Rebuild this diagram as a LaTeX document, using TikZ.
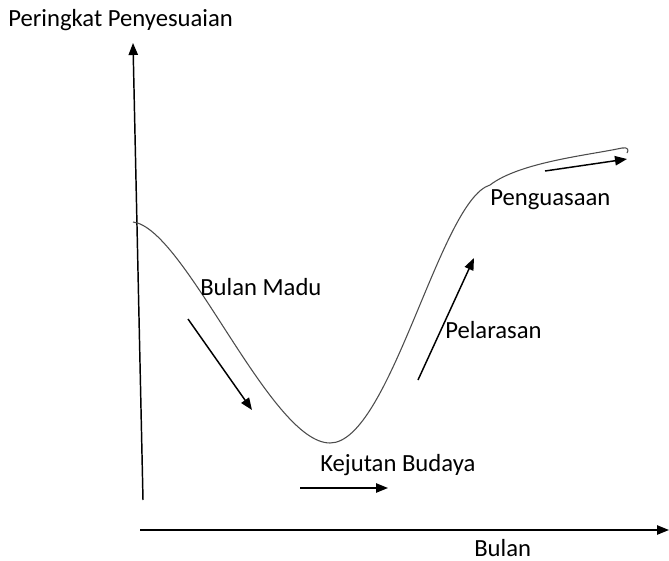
\documentclass[tikz,border=0pt]{standalone}
\usepackage{fontspec}
\setmainfont{Carlito}
\usetikzlibrary{arrows.meta}

\begin{document}
\begin{tikzpicture}[
  x=0.75pt, y=-0.75pt,
  label/.style={inner sep=0pt, anchor=west, font=\fontsize{18.5}{22}\selectfont},
  axis/.style={line width=1.1pt, -{Triangle[length=9pt, width=7pt]}},
  curve/.style={line width=0.8pt, black!70},
  trend/.style={line width=1.1pt, -{Triangle[length=9pt, width=7pt]}}
]
\useasboundingbox (0,0) rectangle (669,561);

% Axes
\coordinate (origin) at (143,500);
\coordinate (ytop) at (133,43);
\coordinate (xleft) at (140,530);
\coordinate (xright) at (669,530);
\draw[axis] (origin) -- (ytop);
\draw[axis] (xleft) -- (xright);
\node[label] (ylabel) at (8,20) {Peringkat Penyesuaian};
\node[label] (xlabel) at (474,548) {Bulan};

% Curve
\draw[curve] (133,222) .. controls (185,228) and (270,443) .. (330,443)
  .. controls (390,443) and (440,200) .. (490,185)
  .. controls (520,162) and (590,155) .. (622,148)
  .. controls (628,147) and (629,150) .. (627,153);

% Stages
\node[label] (madu) at (200,287) {Bulan Madu};
\node[label] (kejutan) at (320,465) {Kejutan Budaya};
\node[label] (pelarasan) at (445,330) {Pelarasan};
\node[label] (penguasaan) at (490,200) {Penguasaan};

% Arrows
\coordinate (a1) at (188,319);
\coordinate (b1) at (252,410);
\coordinate (a2) at (300,488);
\coordinate (b2) at (388,488);
\coordinate (a3) at (418,380);
\coordinate (b3) at (474,258);
\coordinate (a4) at (545,171);
\coordinate (b4) at (627,159);
\draw[trend] (a1) -- (b1);
\draw[trend] (a2) -- (b2);
\draw[trend] (a3) -- (b3);
\draw[trend] (a4) -- (b4);

\end{tikzpicture}
\end{document}
